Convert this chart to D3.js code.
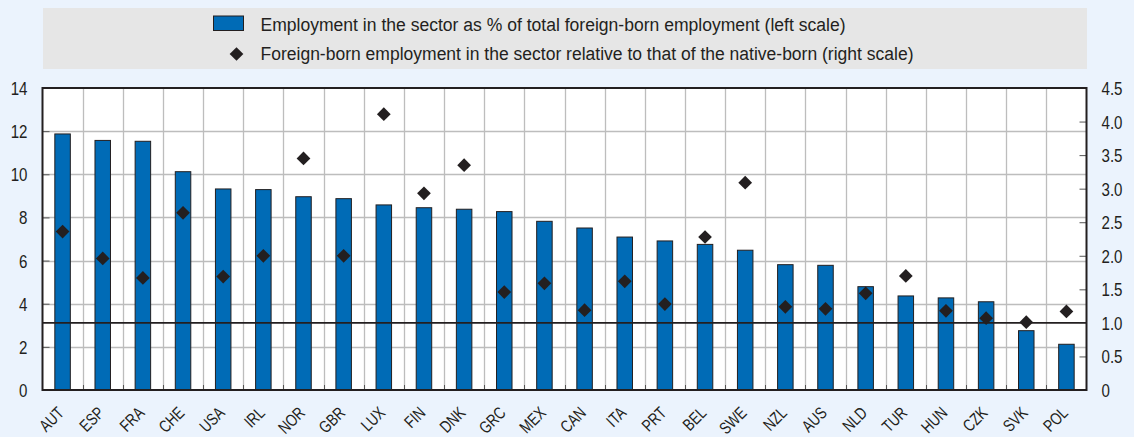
<!DOCTYPE html>
<html>
<head>
<meta charset="utf-8">
<script src="https://cdn.jsdelivr.net/npm/d3@7"></script>
<style>
  html, body { margin: 0; padding: 0; background: #EBF3FD; }
  svg { display: block; }
  text { font-family: "Liberation Sans", Arial, sans-serif; fill: #231F20; }
</style>
</head>
<body>
<svg id="chart" width="1134" height="437"></svg>
<script>
// Countries, ordered by the share of foreign-born employment in the sector
const countries = ["AUT","ESP","FRA","CHE","USA","IRL","NOR","GBR","LUX","FIN","DNK","GRC","MEX",
  "CAN","ITA","PRT","BEL","SWE","NZL","AUS","NLD","TUR","HUN","CZK","SVK","POL"];

// Employment in the sector as % of total foreign-born employment (left scale)
const shareForeignBorn = [11.87, 11.57, 11.53, 10.12, 9.32, 9.29, 8.96, 8.87, 8.58, 8.45, 8.38, 8.27, 7.82,
  7.51, 7.09, 6.91, 6.75, 6.48, 5.81, 5.78, 4.79, 4.36, 4.27, 4.09, 2.75, 2.12];

// Foreign-born employment in the sector relative to native-born (right scale)
const relativeToNative = [2.36, 1.96, 1.67, 2.64, 1.69, 2.00, 3.45, 2.00, 4.11, 2.93, 3.35, 1.46, 1.59,
  1.19, 1.62, 1.28, 2.28, 3.09, 1.24, 1.21, 1.44, 1.70, 1.18, 1.07, 1.01, 1.17];

const leftTicks = [0, 2, 4, 6, 8, 10, 12, 14];
const rightTicks = [0, 0.5, 1.0, 1.5, 2.0, 2.5, 3.0, 3.5, 4.0, 4.5];
const rightTickLabels = ["0", "0.5", "1.0", "1.5", "2.0", "2.5", "3.0", "3.5", "4.0", "4.5"];
const referenceLevel = 1.0;

const legendLabels = [
  "Employment in the sector as % of total foreign-born employment (left scale)",
  "Foreign-born employment in the sector relative to that of the native-born (right scale)"
];

const svg = d3.select("#chart");
const plot = { left: 42.5, right: 1086.5, top: 88, bottom: 390 };
const barBlue = "#006BB6";
const ink = "#231F20";
const grid = "#BDBDBD";
const narrow = 0.84;      // horizontal compression giving a narrow face
const labelNarrow = 0.78; // a little tighter for the country codes

const x = d3.scaleBand().domain(countries).range([plot.left, plot.right]).paddingInner(0).paddingOuter(0);
const yL = d3.scaleLinear().domain([0, 14]).range([plot.bottom, plot.top]);
const yR = d3.scaleLinear().domain([0, 4.5]).range([plot.bottom, plot.top]);

// Legend panel
const legend = svg.append("g");
legend.append("rect").attr("x", 43).attr("y", 8).attr("width", 1044).attr("height", 61).attr("fill", "#E6E6E6");
legend.append("rect").attr("x", 213.5).attr("y", 16).attr("width", 30).attr("height", 14.5)
  .attr("fill", barBlue).attr("stroke", ink).attr("stroke-width", 1);
legend.append("path").attr("d", d3.symbol(d3.symbolDiamond2, 120)())
  .attr("transform", "translate(236.5,54)").attr("fill", ink);
const legendWidths = [585, 653];
legend.selectAll("text.leg").data(legendLabels).join("text")
  .attr("class", "leg")
  .attr("x", 260.5).attr("y", (d, i) => 30.5 + i * 29.5)
  .attr("font-size", 18)
  .attr("textLength", (d, i) => legendWidths[i])
  .attr("lengthAdjust", "spacingAndGlyphs")
  .text(d => d);

// Plot background
svg.append("rect").attr("x", plot.left).attr("y", plot.top)
  .attr("width", plot.right - plot.left).attr("height", plot.bottom - plot.top).attr("fill", "#FFFFFF");

// Horizontal gridlines on the left scale
svg.append("g").selectAll("line").data(leftTicks.slice(1, -1)).join("line")
  .attr("x1", plot.left).attr("x2", plot.right)
  .attr("y1", d => Math.round(yL(d)) + 0.5).attr("y2", d => Math.round(yL(d)) + 0.5)
  .attr("stroke", grid).attr("stroke-width", 1.3);

// Vertical gridlines between countries
svg.append("g").selectAll("line").data(countries.slice(1)).join("line")
  .attr("x1", d => Math.round(x(d)) + 0.5).attr("x2", d => Math.round(x(d)) + 0.5)
  .attr("y1", plot.top).attr("y2", plot.bottom)
  .attr("stroke", grid).attr("stroke-width", 1.3);

// Bars
const bw = 15.5;
svg.append("g").selectAll("rect").data(countries).join("rect")
  .attr("x", d => x(d) + x.bandwidth() / 2 - bw / 2)
  .attr("y", (d, i) => yL(shareForeignBorn[i]))
  .attr("width", bw)
  .attr("height", (d, i) => plot.bottom - yL(shareForeignBorn[i]))
  .attr("fill", barBlue).attr("stroke", ink).attr("stroke-width", 1);

// Reference line at parity with native-born
svg.append("line")
  .attr("x1", plot.left).attr("x2", plot.right)
  .attr("y1", yR(referenceLevel)).attr("y2", yR(referenceLevel))
  .attr("stroke", ink).attr("stroke-width", 1.8);

// Diamonds on the right scale
svg.append("g").selectAll("path").data(countries).join("path")
  .attr("d", d3.symbol(d3.symbolDiamond2, 120)())
  .attr("transform", (d, i) => `translate(${x(d) + x.bandwidth() / 2},${yR(relativeToNative[i])})`)
  .attr("fill", ink);

// Left axis
const axL = svg.append("g").attr("transform", `translate(${plot.left},0)`)
  .call(d3.axisRight(yL).tickValues(leftTicks).tickSize(7).tickFormat(d3.format("d")));
axL.select(".domain").remove();
axL.selectAll("line").attr("stroke", "#555").attr("stroke-width", 1);
axL.selectAll("text")
  .attr("x", -15 / narrow).attr("dy", "0.36em")
  .attr("transform", `scale(${narrow},1)`)
  .attr("text-anchor", "end").attr("font-size", 18).attr("fill", ink);

// Right axis
const axR = svg.append("g").attr("transform", `translate(${plot.right},0)`)
  .call(d3.axisLeft(yR).tickValues(rightTicks).tickSize(7).tickFormat((d, i) => rightTickLabels[i]));
axR.select(".domain").remove();
axR.selectAll("line").attr("stroke", "#555").attr("stroke-width", 1);
axR.selectAll("text")
  .attr("x", 15 / narrow).attr("dy", "0.36em")
  .attr("transform", `scale(${narrow},1)`)
  .attr("text-anchor", "start").attr("font-size", 18).attr("fill", ink);

// Country labels, turned 45 degrees (rotation and narrowing folded into one matrix)
const c45 = Math.SQRT1_2;
const labels = svg.append("g").selectAll("g").data(countries).join("g")
  .attr("transform", d => {
    const tx = x(d) + x.bandwidth() / 2 + 2.5;
    const ty = plot.bottom + 24;
    return `matrix(${c45 * labelNarrow},${-c45 * labelNarrow},${c45},${c45},${tx},${ty})`;
  });
labels.append("text")
  .attr("text-anchor", "end")
  .attr("font-size", 17)
  .text(d => d);

// Small ticks at band boundaries along the base
svg.append("g").selectAll("line").data(countries.slice(1)).join("line")
  .attr("x1", d => Math.round(x(d)) + 0.5).attr("x2", d => Math.round(x(d)) + 0.5)
  .attr("y1", plot.bottom - 5).attr("y2", plot.bottom)
  .attr("stroke", "#555").attr("stroke-width", 1);

// Plot frame
svg.append("rect").attr("x", plot.left).attr("y", plot.top)
  .attr("width", plot.right - plot.left).attr("height", plot.bottom - plot.top)
  .attr("fill", "none").attr("stroke", ink).attr("stroke-width", 2);
</script>
</body>
</html>
